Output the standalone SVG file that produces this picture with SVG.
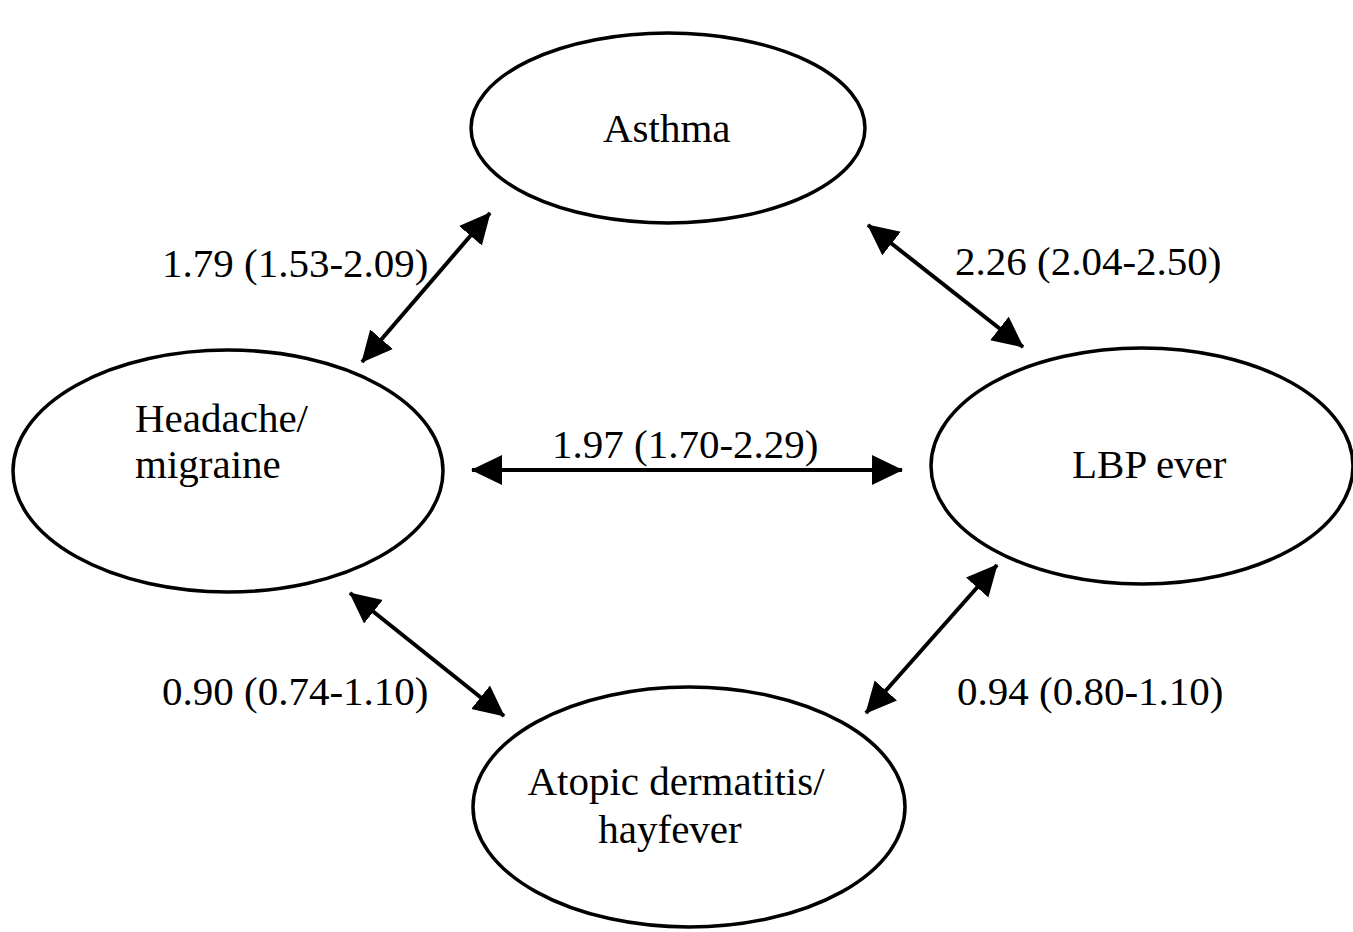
<svg xmlns="http://www.w3.org/2000/svg" width="1353" height="932" viewBox="0 0 1353 932">
<style>
.node{fill:#fff;stroke:#000;stroke-width:3.5}
text{font-family:"Liberation Serif","Times New Roman",serif;font-size:41px;fill:#000}
.edge{stroke:#000;stroke-width:4;fill:none;marker-start:url(#ah);marker-end:url(#ah)}
</style>
<defs>
<marker id="ah" markerUnits="userSpaceOnUse" markerWidth="31" markerHeight="31" refX="30" refY="15" orient="auto-start-reverse" viewBox="0 0 31 30">
<path d="M0,0 L31,15 L0,30 Z" fill="#000"/>
</marker>
</defs>
<rect width="1353" height="932" fill="#fff"/>
<g id="asthma">
<ellipse class="node" cx="668" cy="128" rx="197" ry="95"/>
<text x="603" y="142">Asthma</text>
</g>
<g id="headache">
<ellipse class="node" cx="228" cy="471" rx="215" ry="121"/>
<text x="135" y="432">Headache/</text>
<text x="135" y="478">migraine</text>
</g>
<g id="lbp">
<ellipse class="node" cx="1142" cy="466" rx="211" ry="118"/>
<text x="1072" y="478">LBP ever</text>
</g>
<g id="atopic">
<ellipse class="node" cx="689" cy="807" rx="216" ry="120"/>
<text x="676" y="795" text-anchor="middle">Atopic dermatitis/</text>
<text x="670" y="843" text-anchor="middle">hayfever</text>
</g>
<g id="connectors">
<line class="edge" x1="362" y1="362" x2="490" y2="213"/>
<line class="edge" x1="868" y1="225" x2="1023" y2="347"/>
<line class="edge" x1="472" y1="470" x2="902" y2="470"/>
<line class="edge" x1="350" y1="593" x2="504" y2="716"/>
<line class="edge" x1="997" y1="565" x2="866" y2="713"/>
<text x="162" y="277">1.79 (1.53-2.09)</text>
<text x="955" y="275">2.26 (2.04-2.50)</text>
<text x="552" y="458">1.97 (1.70-2.29)</text>
<text x="162" y="705">0.90 (0.74-1.10)</text>
<text x="957" y="705">0.94 (0.80-1.10)</text>
</g>
</svg>
